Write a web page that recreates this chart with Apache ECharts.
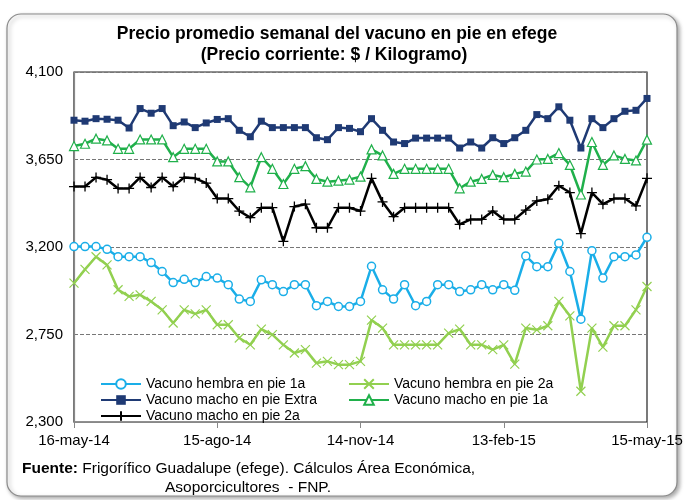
<!DOCTYPE html>
<html>
<head>
<meta charset="utf-8">
<script src="https://cdn.jsdelivr.net/npm/echarts@6/dist/echarts.min.js"></script>
<style>
  html, body { margin: 0; padding: 0; background: #fff; }
  #chart { width: 686px; height: 500px; }
</style>
</head>
<body>
<div id="chart"></div>
<script>
// semanas (viernes)
var fechas = ['16-may-14','23-may-14','30-may-14','6-jun-14','13-jun-14','20-jun-14','27-jun-14','4-jul-14','11-jul-14','18-jul-14','25-jul-14','1-ago-14','8-ago-14',
  '15-ago-14','22-ago-14','29-ago-14','5-sep-14','12-sep-14','19-sep-14','26-sep-14','3-oct-14','10-oct-14','17-oct-14','24-oct-14','31-oct-14','7-nov-14',
  '14-nov-14','21-nov-14','28-nov-14','5-dic-14','12-dic-14','19-dic-14','26-dic-14','2-ene-15','9-ene-15','16-ene-15','23-ene-15','30-ene-15','6-feb-15',
  '13-feb-15','20-feb-15','27-feb-15','6-mar-15','13-mar-15','20-mar-15','27-mar-15','3-abr-15','10-abr-15','17-abr-15','24-abr-15','1-may-15','8-may-15',
  '15-may-15'];

var hembra1a = [3202,3202,3202,3188,3150,3150,3150,3120,3074,3017,3034,3017,3048,
  3040,3006,2932,2920,3031,3006,2971,3006,3006,2898,2920,2894,2894,
  2920,3101,2980,2932,3006,2898,2920,3006,3006,2971,2980,3006,2980,
  3006,2977,3154,3099,3099,3219,3074,2829,3181,3040,3150,3150,3159,
  3250];
var hembra2a = [3014,3085,3150,3108,2980,2946,2954,2920,2877,2809,2877,2856,2877,
  2800,2800,2732,2697,2778,2749,2697,2655,2672,2603,2612,2595,2595,
  2612,2824,2783,2697,2697,2697,2697,2697,2757,2778,2697,2697,2672,
  2697,2598,2783,2774,2795,2920,2846,2458,2783,2685,2795,2795,2877,
  2997];
var machoExtra = [3852,3847,3860,3857,3852,3812,3912,3888,3912,3824,3843,3814,3838,
  3856,3860,3800,3767,3847,3814,3814,3814,3814,3762,3752,3814,3810,
  3793,3860,3800,3740,3732,3760,3760,3760,3760,3709,3740,3709,3762,
  3732,3762,3800,3881,3860,3921,3852,3709,3860,3814,3860,3898,3903,
  3964];
var macho1a = [3719,3731,3757,3748,3705,3705,3753,3753,3753,3662,3705,3705,3705,
  3640,3640,3559,3507,3662,3602,3524,3602,3616,3550,3536,3541,3547,
  3562,3702,3671,3576,3602,3602,3602,3602,3602,3502,3536,3550,3571,
  3559,3576,3588,3650,3653,3683,3622,3470,3740,3622,3671,3653,3645,
  3752];
var macho2a = [3511,3511,3558,3546,3501,3501,3558,3506,3558,3511,3558,3553,3529,
  3449,3449,3385,3351,3402,3402,3229,3408,3420,3299,3299,3402,3402,
  3385,3553,3432,3356,3402,3402,3402,3402,3402,3316,3342,3342,3385,
  3342,3342,3390,3437,3446,3515,3480,3269,3480,3420,3449,3449,3411,
  3553];

var yMin = 2300, yMax = 4100, yPaso = 450;
var fuente = 'Liberation Sans, Arial, sans-serif';

var simboloX = 'path://M0,0L10,10M10,0L0,10';
var simboloMas = 'path://M5,0L5,10M0,5L10,5';

var chart = echarts.init(document.getElementById('chart'));

function serie(nombre, datos, color, symbol, size, estilo) {
  return {
    name: nombre,
    type: 'line',
    data: datos,
    symbol: symbol,
    symbolSize: size,
    showAllSymbol: true,
    lineStyle: { color: color, width: 2.5 },
    itemStyle: estilo,
    emphasis: { disabled: true },
    animation: false
  };
}

var leyendaTexto = { fontSize: 14, color: '#000', fontFamily: fuente };

chart.setOption({
  textStyle: { fontFamily: fuente },
  legend: [
    {
      left: 95, top: 372, orient: 'vertical', itemGap: 2,
      itemWidth: 40, itemHeight: 12,
      textStyle: leyendaTexto,
      data: ['Vacuno hembra en pie 1a', 'Vacuno macho en pie Extra', 'Vacuno macho en pie 2a']
    },
    {
      left: 343, top: 372, orient: 'vertical', itemGap: 2,
      itemWidth: 40, itemHeight: 12,
      textStyle: leyendaTexto,
      data: ['Vacuno hembra en pie 2a', 'Vacuno macho en pie 1a']
    }
  ],
  grid: { left: 74, right: 39, top: 72, bottom: 78, show: true, borderColor: '#222', borderWidth: 1.2, backgroundColor: 'transparent' },
  xAxis: {
    type: 'category',
    data: fechas,
    boundaryGap: false,
    axisLine: { lineStyle: { color: '#888', width: 1.2 } },
    axisTick: { interval: 12, length: 6, lineStyle: { color: '#888' } },
    axisLabel: { interval: 12, fontSize: 15, color: '#000', margin: 11, fontFamily: fuente },
    splitLine: { show: false }
  },
  yAxis: {
    type: 'value',
    min: yMin, max: yMax, interval: yPaso,
    axisLine: { show: true, lineStyle: { color: '#888', width: 1.2 } },
    axisTick: { show: false },
    axisLabel: {
      fontSize: 15, color: '#000', margin: 11, fontFamily: fuente,
      formatter: function (v) { return v.toLocaleString('en-US'); }
    },
    splitLine: { lineStyle: { color: '#777', type: [4, 2], width: 1 } }
  },
  series: [
    serie('Vacuno hembra en pie 1a', hembra1a, '#1aaee8', 'circle', 8,
      { color: '#fff', borderColor: '#1aaee8', borderWidth: 1.5 }),
    serie('Vacuno hembra en pie 2a', hembra2a, '#92d050', simboloX, 9,
      { color: 'rgba(0,0,0,0)', borderColor: '#92d050', borderWidth: 1.2 }),
    serie('Vacuno macho en pie Extra', machoExtra, '#1f3a74', 'rect', 7,
      { color: '#1f3a74', borderWidth: 0 }),
    serie('Vacuno macho en pie 1a', macho1a, '#20b04b', 'triangle', 9,
      { color: '#fff', borderColor: '#20b04b', borderWidth: 1.2 }),
    serie('Vacuno macho en pie 2a', macho2a, '#000', simboloMas, 10,
      { color: 'rgba(0,0,0,0)', borderColor: '#000', borderWidth: 1.3 })
  ],
  graphic: [
    {
      type: 'rect', z: -10, silent: true,
      shape: { x: 7, y: 14, width: 670, height: 482, r: 14 },
      style: { fill: '#fff', stroke: '#8a8a8a', lineWidth: 1.2, shadowBlur: 4, shadowOffsetX: 2, shadowOffsetY: 2, shadowColor: 'rgba(0,0,0,0.35)' }
    },
    {
      type: 'text', x: 337, y: 34, silent: true,
      style: { text: 'Precio promedio semanal del vacuno en pie en efege', font: 'bold 17.5px ' + fuente, fill: '#000', align: 'center', verticalAlign: 'middle' }
    },
    {
      type: 'text', x: 334, y: 55, silent: true,
      style: { text: '(Precio corriente: $ / Kilogramo)', font: 'bold 17.5px ' + fuente, fill: '#000', align: 'center', verticalAlign: 'middle' }
    },
    {
      type: 'text', left: 22, top: 461, silent: true,
      style: {
        text: '{b|Fuente:} Frigorífico Guadalupe (efege). Cálculos Área Económica,',
        font: '15.5px ' + fuente, fill: '#000',
        rich: { b: { fontWeight: 'bold', fontSize: 15.5, fontFamily: fuente } }
      }
    },
    {
      type: 'text', left: 165, top: 480, silent: true,
      style: { text: 'Asoporcicultores  - FNP.', font: '15.5px ' + fuente, fill: '#000' }
    }
  ]
});
</script>
</body>
</html>
